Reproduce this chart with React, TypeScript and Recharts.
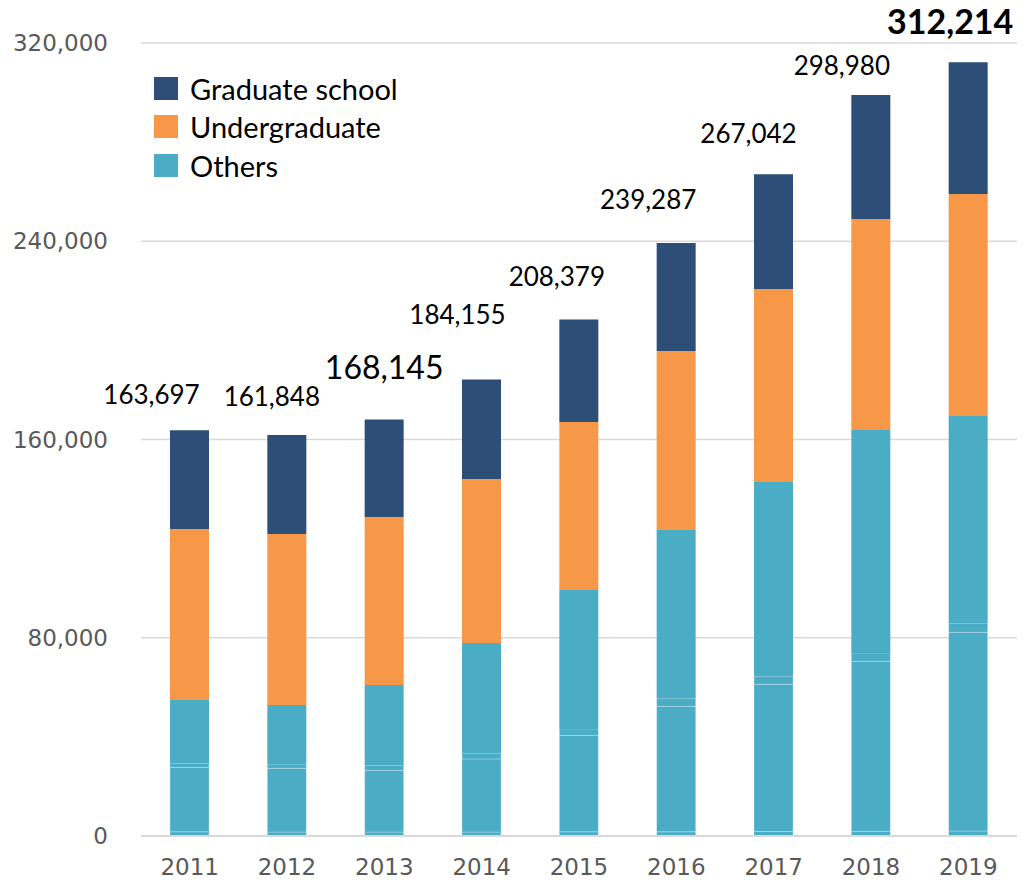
import React from "react"
import { BarChart, Bar, XAxis, YAxis, CartesianGrid, Legend, LabelList } from "recharts"

const years = ["2011", "2012", "2013", "2014", "2015", "2016", "2017", "2018", "2019"]

// "Others" is drawn as four stacked pieces, which gives the faint lines seen in the bars
const othersA = [1700, 1600, 1600, 1600, 1700, 1700, 1800, 1900, 2000]
const othersB = [26000, 25700, 24900, 29500, 38900, 50600, 59400, 68600, 80200]
const othersC = [1600, 1500, 2000, 2300, 2600, 3300, 3200, 3300, 3700]
const othersD = [25600, 24100, 32400, 44500, 56100, 67900, 78500, 90000, 83600]
const undergraduate = [69000, 69000, 67800, 66200, 67800, 72200, 77800, 85200, 89600]
const graduate = [39800, 39900, 39400, 40100, 41300, 43600, 46300, 50000, 53100]
const totals = [163697, 161848, 168145, 184155, 208379, 239287, 267042, 298980, 312214]

const yTicks = [0, 80000, 160000, 240000, 320000]

const GRAD = "#2d4e77"
const UNDER = "#f79848"
const OTHERS = "#4bacc6"

const legendItems = [
  { name: "Graduate school", color: GRAD },
  { name: "Undergraduate", color: UNDER },
  { name: "Others", color: OTHERS },
]

// hand placed labels in the original, offsets from the bar top centre
const labelDx = [-38, -15, 0, -24, -22, -28, -25, -29, -18]
const labelDy = [-36, -39, -53, -66, -44, -44, -41, -30, -42]
const labelSize = [26, 26, 32, 26, 26, 26, 26, 26, 34]

const data = years.map((year, i) => ({
  year,
  oA: othersA[i],
  oB: othersB[i],
  oC: othersC[i],
  oD: othersD[i],
  under: undergraduate[i],
  grad: graduate[i],
  total: totals[i],
}))

const tickStyle = { fontSize: 23, fill: "#595959", fontFamily: "DejaVu Sans" }

function renderLegend() {
  return (
    <div style={{ fontFamily: "Lato", fontSize: 29, color: "#000" }}>
      {legendItems.map((item) => (
        <div key={item.name} style={{ display: "flex", alignItems: "center", height: 38.5 }}>
          <span style={{ width: 24, height: 23, background: item.color, marginRight: 12, display: "inline-block" }} />
          <span>{item.name}</span>
        </div>
      ))}
    </div>
  )
}

function renderTotal(props: any) {
  const { x, y, width, value } = props
  const i = totals.indexOf(Number(value))
  if (i < 0) return null
  const last = i === totals.length - 1
  return (
    <text
      x={Number(x) + Number(width) / 2 + labelDx[i]}
      y={Number(y) + labelDy[i]}
      textAnchor="middle"
      dominantBaseline="central"
      fontFamily="Lato"
      fontSize={labelSize[i]}
      fontWeight={last ? 700 : 400}
      fill="#000"
    >
      {Number(value).toLocaleString("en-US")}
    </text>
  )
}

export default function App() {
  const subStroke = "rgba(255,255,255,0.25)"
  return (
    <>
      <style>{"body { margin: 0; }"}</style>
      <BarChart
        width={1024}
        height={882}
        data={data}
        margin={{ top: 43, right: 7, bottom: 0, left: 8 }}
        barSize={39}
      >
        <CartesianGrid vertical={false} stroke="#d9d9d9" strokeWidth={1.5} />
        <XAxis
          dataKey="year"
          interval={0}
          height={46}
          axisLine={{ stroke: "#d9d9d9", strokeWidth: 2 }}
          tickLine={false}
          tickMargin={17}
          tick={tickStyle}
        />
        <YAxis
          domain={[0, 320000]}
          ticks={yTicks}
          width={133}
          axisLine={false}
          tickLine={false}
          tickMargin={27}
          tick={tickStyle}
          tickFormatter={(v: number) => v.toLocaleString("en-US")}
        />
        <Legend
          layout="vertical"
          align="center"
          verticalAlign="middle"
          wrapperStyle={{ left: 154, top: 69, width: 300 }}
          content={renderLegend}
        />
        <Bar dataKey="oA" stackId="a" fill={OTHERS} stroke={subStroke} strokeWidth={1} isAnimationActive={false} />
        <Bar dataKey="oB" stackId="a" fill={OTHERS} stroke={subStroke} strokeWidth={1} isAnimationActive={false} />
        <Bar dataKey="oC" stackId="a" fill={OTHERS} stroke={subStroke} strokeWidth={1} isAnimationActive={false} />
        <Bar dataKey="oD" stackId="a" fill={OTHERS} isAnimationActive={false} />
        <Bar dataKey="under" stackId="a" fill={UNDER} isAnimationActive={false} />
        <Bar dataKey="grad" stackId="a" fill={GRAD} isAnimationActive={false}>
          <LabelList dataKey="total" content={renderTotal} />
        </Bar>
      </BarChart>
    </>
  )
}
